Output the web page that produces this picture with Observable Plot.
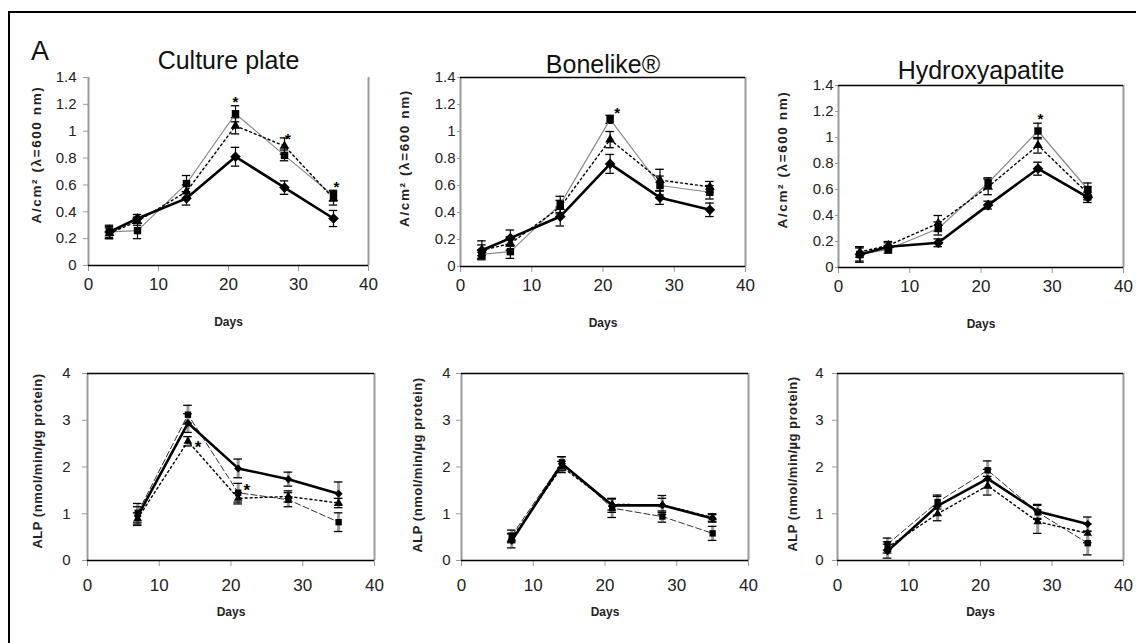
<!DOCTYPE html>
<html><head><meta charset="utf-8">
<script src="https://cdn.jsdelivr.net/npm/d3@7"></script>
<script src="https://cdn.jsdelivr.net/npm/@observablehq/plot@0.6"></script>
<style>
body{margin:0;background:#fff;}
#root{position:relative;width:1136px;height:643px;overflow:hidden;background:#fff;font-family:"Liberation Sans",Arial,sans-serif;}
#root svg{position:absolute;overflow:visible;background:transparent;}
#frame{position:absolute;left:8px;top:11px;width:1150px;height:700px;border:2px solid #000;box-sizing:border-box;}
#letter{position:absolute;left:31px;top:38px;font-size:27px;line-height:1;color:#111;}
</style></head><body><div id="root"><div id="frame"></div><div id="letter">A</div></div>
<script>
// ---------- data ----------
const daysMin = [3, 7, 14, 21, 28, 35];
const daysALP = [7, 14, 21, 28, 35];
const xTicks = [0, 10, 20, 30, 40];
const yTicksMin = [0, 0.2, 0.4, 0.6, 0.8, 1, 1.2, 1.4];
const yTicksALP = [0, 1, 2, 3, 4];
const panelTitles = ["Culture plate", "Bonelike®", "Hydroxyapatite"];
const xLabel = "Days";
const yLabelMin = "A/cm² (λ=600 nm)";
const yLabelALP = "ALP (nmol/min/µg protein)";

// Mineralization – culture plate
const minCultureDiamond = [0.25, 0.35, 0.50, 0.81, 0.58, 0.35];
const minCultureDiamondErr = [0.04, 0.03, 0.05, 0.07, 0.05, 0.06];
const minCultureSquare = [0.25, 0.26, 0.61, 1.13, 0.82, 0.52];
const minCultureSquareErr = [0.05, 0.06, 0.06, 0.06, 0.04, 0.04];
const minCultureTriangle = [0.24, 0.33, 0.55, 1.04, 0.89, 0.50];
const minCultureTriangleErr = [0.04, 0.03, 0.05, 0.06, 0.06, 0.05];
const minCultureStarDays = [21, 28.5, 35.4];
const minCultureStarVals = [1.25, 0.98, 0.62];

// Mineralization – Bonelike
const minBoneDiamond = [0.12, 0.21, 0.37, 0.76, 0.51, 0.42];
const minBoneDiamondErr = [0.04, 0.06, 0.07, 0.07, 0.05, 0.05];
const minBoneSquare = [0.09, 0.11, 0.46, 1.09, 0.60, 0.55];
const minBoneSquareErr = [0.03, 0.05, 0.06, 0.03, 0.07, 0.05];
const minBoneTriangle = [0.12, 0.17, 0.44, 0.94, 0.64, 0.59];
const minBoneTriangleErr = [0.07, 0.05, 0.05, 0.06, 0.08, 0.04];
const minBoneStarDays = [22];
const minBoneStarVals = [1.17];

// Mineralization – Hydroxyapatite
const minHADiamond = [0.10, 0.16, 0.19, 0.48, 0.76, 0.54];
const minHADiamondErr = [0.05, 0.03, 0.03, 0.03, 0.05, 0.04];
const minHASquare = [0.10, 0.14, 0.30, 0.65, 1.05, 0.60];
const minHASquareErr = [0.06, 0.03, 0.05, 0.04, 0.06, 0.05];
const minHATriangle = [0.12, 0.17, 0.34, 0.62, 0.94, 0.57];
const minHATriangleErr = [0.04, 0.03, 0.06, 0.06, 0.06, 0.05];
const minHAStarDays = [28.35];
const minHAStarVals = [1.18];

// ALP – culture plate
const alpCultureDiamond = [0.95, 2.94, 1.97, 1.74, 1.43];
const alpCultureDiamondErr = [0.2, 0.2, 0.2, 0.15, 0.25];
const alpCultureSquare = [1.02, 3.12, 1.45, 1.30, 0.82];
const alpCultureSquareErr = [0.2, 0.2, 0.2, 0.15, 0.2];
const alpCultureTriangle = [0.90, 2.55, 1.33, 1.37, 1.23];
const alpCultureTriangleErr = [0.12, 0.1, 0.12, 0.12, 0.1];
const alpCultureStarDays = [15.4, 22.2];
const alpCultureStarVals = [2.53, 1.60];

// ALP – Bonelike
const alpBoneDiamond = [0.42, 2.07, 1.18, 1.18, 0.90];
const alpBoneDiamondErr = [0.15, 0.15, 0.15, 0.15, 0.08];
const alpBoneSquare = [0.53, 2.10, 1.12, 0.94, 0.58];
const alpBoneSquareErr = [0.12, 0.12, 0.2, 0.12, 0.15];
const alpBoneTriangle = [0.48, 2.00, 1.20, 1.19, 0.92];
const alpBoneTriangleErr = [0.1, 0.12, 0.12, 0.2, 0.08];

// ALP – Hydroxyapatite
const alpHADiamond = [0.20, 1.17, 1.75, 1.05, 0.78];
const alpHADiamondErr = [0.15, 0.2, 0.2, 0.15, 0.15];
const alpHASquare = [0.35, 1.25, 1.93, 1.03, 0.37];
const alpHASquareErr = [0.13, 0.15, 0.2, 0.15, 0.25];
const alpHATriangle = [0.28, 1.00, 1.60, 0.83, 0.58];
const alpHATriangleErr = [0.12, 0.15, 0.2, 0.25, 0.2];

// ---------- layout ----------
const FONT = '"Liberation Sans", Arial, sans-serif';
const panels = [
  {row:0, left:0,   top:0, width:378, height:340, ml:88, mr:10, mt:77, mb:75, title:panelTitles[0], titleDy:-9, topBorder:false,
   ytS:5, ytP:7, ylDx:-52, ylDy:-17, days:daysMin,
   D:[minCultureDiamond,minCultureDiamondErr], S:[minCultureSquare,minCultureSquareErr], T:[minCultureTriangle,minCultureTriangleErr],
   stars:[minCultureStarDays,minCultureStarVals]},
  {row:0, left:378, top:0, width:378, height:340, ml:82, mr:11, mt:77, mb:74, title:panelTitles[1], titleDy:-5, topBorder:true,
   ytS:3, ytP:2, ylDx:-56, ylDy:-14, days:daysMin,
   D:[minBoneDiamond,minBoneDiamondErr], S:[minBoneSquare,minBoneSquareErr], T:[minBoneTriangle,minBoneTriangleErr],
   stars:[minBoneStarDays,minBoneStarVals]},
  {row:0, left:756, top:0, width:380, height:340, ml:82, mr:13, mt:85, mb:73, title:panelTitles[2], titleDy:-7, topBorder:true,
   ytS:3, ytP:2, ylDx:-56, ylDy:-17, days:daysMin,
   D:[minHADiamond,minHADiamondErr], S:[minHASquare,minHASquareErr], T:[minHATriangle,minHATriangleErr],
   stars:[minHAStarDays,minHAStarVals]},
  {row:1, left:0,   top:340, width:378, height:303, ml:87, mr:4, mt:33, mb:83, topBorder:true,
   ytS:5, ytP:12, ylDx:-50, ylDy:-6, days:daysALP,
   D:[alpCultureDiamond,alpCultureDiamondErr], S:[alpCultureSquare,alpCultureSquareErr], T:[alpCultureTriangle,alpCultureTriangleErr],
   stars:[alpCultureStarDays,alpCultureStarVals]},
  {row:1, left:378, top:340, width:378, height:303, ml:83, mr:8, mt:33, mb:83, topBorder:true,
   ytS:5, ytP:6, ylDx:-44, ylDy:-2, days:daysALP,
   D:[alpBoneDiamond,alpBoneDiamondErr], S:[alpBoneSquare,alpBoneSquareErr], T:[alpBoneTriangle,alpBoneTriangleErr],
   stars:[[],[]]},
  {row:1, left:756, top:340, width:380, height:303, ml:81, mr:13, mt:33, mb:83, topBorder:true,
   ytS:5, ytP:9, ylDx:-45, ylDy:-3, days:daysALP,
   D:[alpHADiamond,alpHADiamondErr], S:[alpHASquare,alpHASquareErr], T:[alpHATriangle,alpHATriangleErr],
   stars:[[],[]]}
];

const fmt = d => String(+d.toFixed(1));

function makePanel(p) {
  const top = p.row === 0;
  const yTicks = top ? yTicksMin : yTicksALP;
  const yMin = yTicks[0], yMax = yTicks[yTicks.length - 1];
  const xMin = xTicks[0], xMax = xTicks[xTicks.length - 1];
  const rows = [];
  [["diamond", p.D], ["square", p.S], ["triangle", p.T]].forEach(([k, [v, e]]) =>
    v.forEach((y, i) => rows.push({k, x: p.days[i], y, e: e[i]})));
  const of = k => rows.filter(d => d.k === k);
  const stars = p.stars[0].map((x, i) => ({x, y: p.stars[1][i]}));
  const capW = 0.6;
  const yLabel = top ? yLabelMin : yLabelALP;

  const marks = [
    Plot.ruleX([xMin], {stroke: "#9a9a9a", strokeWidth: 2}),
    Plot.ruleX([xMax], {stroke: "#9a9a9a", strokeWidth: 2}),
    p.topBorder ? Plot.ruleY([yMax], {stroke: "#000", strokeWidth: 1.3}) : null,
    Plot.axisX({ticks: xTicks, tickSize: 6, tickPadding: top ? 6 : 12, fontSize: 17, stroke: "#999", fill: "#222", label: null, tickFormat: d => String(d)}),
    Plot.axisY({ticks: yTicks, tickSize: p.ytS, tickPadding: p.ytP, fontSize: 15, stroke: "#999", fill: "#222", label: null, tickFormat: fmt}),
    Plot.ruleY([yMin], {stroke: "#000", strokeWidth: 1.5}),
    Plot.ruleX(rows, {x: "x", y1: d => d.y - d.e, y2: d => d.y + d.e, stroke: top ? "#000" : "#9a9a9a", strokeWidth: top ? 1.2 : 3}),
    Plot.ruleY(rows, {y: d => d.y + d.e, x1: d => d.x - capW, x2: d => d.x + capW, stroke: "#000", strokeWidth: 1.3}),
    Plot.ruleY(rows, {y: d => d.y - d.e, x1: d => d.x - capW, x2: d => d.x + capW, stroke: "#000", strokeWidth: 1.3}),
    Plot.line(of("square"), {x: "x", y: "y", stroke: top ? "#8a8a8a" : "#333", strokeWidth: top ? 1.2 : 1, strokeDasharray: top ? null : "6,3"}),
    Plot.line(of("triangle"), {x: "x", y: "y", stroke: "#000", strokeWidth: 1.4, strokeDasharray: "2,3"}),
    Plot.line(of("diamond"), {x: "x", y: "y", stroke: "#000", strokeWidth: 2.6}),
    Plot.dot(of("square"), {x: "x", y: "y", symbol: "square", r: top ? 4.2 : 3.6, fill: "#000"}),
    Plot.dot(of("triangle"), {x: "x", y: "y", symbol: "triangle", r: top ? 3.6 : 3.2, fill: "#000"}),
    Plot.dot(of("diamond"), {x: "x", y: "y", symbol: "diamond2", r: top ? 4.8 : 3.6, fill: "#000"}),
    Plot.text(stars, {x: "x", y: "y", text: () => "*", fontSize: top ? 15 : 17, fontWeight: "bold", dy: 5, fill: "#000"}),
    Plot.text([xLabel], {frameAnchor: "bottom", dy: top ? 60 : 55, fontSize: 12, fontWeight: "bold", fill: "#222"}),
    Plot.text([yLabel], {frameAnchor: "left", textAnchor: "middle", rotate: -90,
      dx: p.ylDx, dy: p.ylDy, fontSize: top ? 13.5 : 13, fontWeight: "bold", fill: "#222"}),
    p.title ? Plot.text([p.title], {frameAnchor: "top", lineAnchor: "bottom", dy: p.titleDy, fontSize: 25, fill: "#111"}) : null
  ];

  const svg = Plot.plot({
    width: p.width, height: p.height,
    marginLeft: p.ml, marginRight: p.mr, marginTop: p.mt, marginBottom: p.mb,
    x: {domain: [xMin, xMax]},
    y: {domain: [yMin, yMax]},
    style: {fontFamily: FONT, background: "transparent", overflow: "visible"},
    marks
  });
  svg.querySelectorAll("text").forEach(t => {
    if (t.textContent === yLabel) t.style.letterSpacing = top ? "1.6px" : "0.5px";
  });
  svg.style.left = p.left + "px";
  svg.style.top = p.top + "px";
  return svg;
}

const root = document.getElementById("root");
panels.forEach(p => root.appendChild(makePanel(p)));
</script>
</body></html>
